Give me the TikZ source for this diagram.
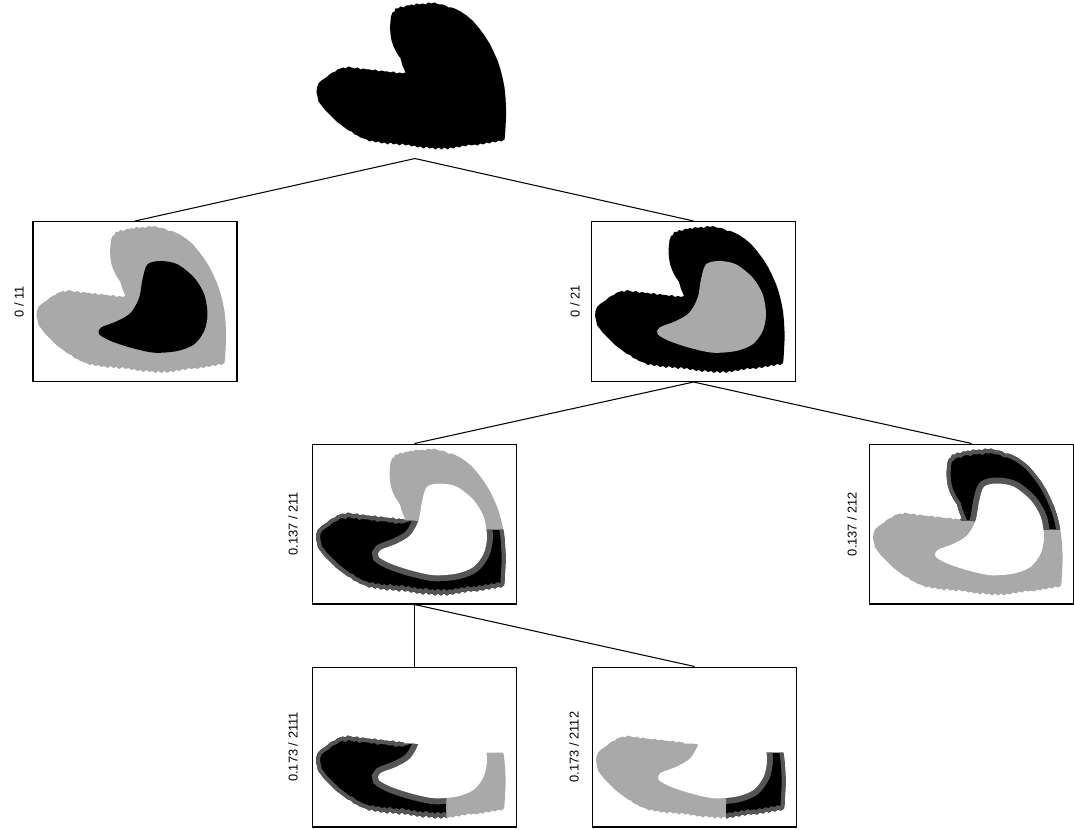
\documentclass[tikz,border=0pt]{standalone}
\usepackage{fontspec}
\setsansfont{Liberation Sans}

\definecolor{lightshade}{HTML}{A9A9A9}
\definecolor{darkshade}{HTML}{555555}

% outlines, in pixels from the top left corner of a panel
\newcommand{\heartoutline}{plot coordinates {(93,75) (90,68) (88,61) (84,55) (81,49) (79,43) (78,37) (77.5,30) (78,24) (78.5,19)
  (80,15) (82,14) (83,11) (86,11) (88,9) (91,10) (94,8) (97,8) (99,7) (101,8) (104,6) (107,7) (110,6) (113,7) (116,5) (119,6) (122,5) (124,6) (127,7) (130,7) (133,8) (136,10) (139,10) (142,11)
  (148,14) (154,18) (160,23) (166,30) (172,38) (177,46) (181,54) (185,63) (188,72) (190,80) (192,90) (193,100) (193.5,110) (193.5,120) (193,130) (192.5,138) (192,142)
  (189,144) (186,143) (183,145) (180,144) (177,146) (174,145) (171,147) (168,146) (165,148) (162,147) (159,148) (156,147) (153,149) (150,148) (147,150) (144,149) (141,151) (138,150) (135,152) (132,150) (129,152) (126,150) (123,152) (120,150) (117,151) (114,149) (111,151) (108,149) (105,150) (102,148) (99,149) (96,147) (93,148) (90,146) (87,148) (84,146) (81,147) (78,145) (75,147) (72,145) (69,146) (66,144) (63,145) (60,143) (57,144) (54,142) (51,141) (48,140) (45,138) (42,137) (39,134) (36,133)
  (32,130) (28,127) (24,124) (20,120) (16,116) (12,112) (9,108) (6,104) (5,99) (4,95) (4.5,90) (6,86) (9,83) (12,81)
  (15,79) (17,77) (20,75) (23,74) (25,72) (28,71) (31,70) (33,71) (36,69) (39,70) (42,71) (45,70) (48,72) (51,71) (54,72) (57,72) (60,73) (63,72) (66,74) (69,73) (72,74) (75,74) (78,75) (81,74) (84,76) (87,75) (90,76)} -- cycle}
\newcommand{\beanoutline}{plot[smooth cycle] coordinates {(115,43.3) (128.3,40) (145,43.3) (161.7,56.7) (171.7,73.3) (175,93.3) (171.7,110) (161.7,123.3) (145,130) (121.7,131.7) (98.3,126.7) (78.3,120) (66.7,113.3) (68.3,106.7) (85,100) (98.3,91.7) (106.7,76.7) (110,58.3)}}
\newcommand{\uppercut}{(-5,-5) -- (210,-5) -- (210,86) -- (160,86) -- (100,77) -- (92,77) -- (84,65) -- (-5,65) -- cycle}
\newcommand{\lowercut}{(-5,65) -- (84,65) -- (92,77) -- (100,77) -- (160,86) -- (210,86) -- (210,165) -- (-5,165) -- cycle}
% black part of the ring with grey rims (used inside a clip)
\newcommand{\banded}{%
  \fill[black] (-5,-5) rectangle (210,165);
  \draw[darkshade, line width=4.5pt] \heartoutline;
  \draw[darkshade, line width=6.8pt] \beanoutline;}

\tikzset{
  panel/.style={draw, line width=.6pt, minimum width=4.08cm, minimum height=3.2cm, inner sep=0pt},
  lbl/.style={rotate=90, font=\sffamily\fontsize{7.3}{9}\selectfont}
}

\begin{document}
\begin{tikzpicture}[x=0.02cm, y=-0.02cm]
\useasboundingbox (0,0) rectangle (1074,829);

\node[panel, draw=none] (root) at (415,78) {};
\node[panel] (b11) at (135,301.5) {};
\node[panel] (b21) at (693.5,301.5) {};
\node[panel] (b211) at (414.5,524) {};
\node[panel] (b212) at (971.5,524) {};
\node[panel] (b2111) at (414.5,747) {};
\node[panel] (b2112) at (694.5,747) {};

\node[lbl] (l11) at (19,301.5) {0 / 11};
\node[lbl] (l21) at (575,301.5) {0 / 21};
\node[lbl] (l211) at (293,524) {0.137 / 211};
\node[lbl] (l212) at (852,524) {0.137 / 212};
\node[lbl] (l2111) at (293,747) {0.173 / 2111};
\node[lbl] (l2112) at (574,747) {0.173 / 2112};

\draw[line width=.6pt] (root.south) -- (b11.north);
\draw[line width=.6pt] (root.south) -- (b21.north);
\draw[line width=.6pt] (b21.south) -- (b211.north);
\draw[line width=.6pt] (b21.south) -- (b212.north);
\draw[line width=.6pt] (b211.south) -- (b2111.north);
\draw[line width=.6pt] (b211.south) -- (b2112.north);

% root
\begin{scope}[shift={(root.north west)}]
  \fill[black] \heartoutline;
\end{scope}

% 11
\begin{scope}[shift={(b11.north west)}]
  \fill[lightshade] \heartoutline;
  \fill[black] \beanoutline;
\end{scope}

% 21
\begin{scope}[shift={(b21.north west)}]
  \fill[black] \heartoutline;
  \fill[lightshade] \beanoutline;
\end{scope}

% 211
\begin{scope}[shift={(b211.north west)}]
  \begin{scope}
    \clip \uppercut;
    \fill[lightshade] \heartoutline;
  \end{scope}
  \begin{scope}
    \clip \lowercut;
    \clip \heartoutline;
    \banded
  \end{scope}
  \fill[white] \beanoutline;
\end{scope}

% 212
\begin{scope}[shift={(b212.north west)}]
  \begin{scope}
    \clip \lowercut;
    \fill[lightshade] \heartoutline;
  \end{scope}
  \begin{scope}
    \clip \uppercut;
    \clip \heartoutline;
    \banded
  \end{scope}
  \fill[white] \beanoutline;
\end{scope}

% 2111
\begin{scope}[shift={(b2111.north west)}]
  \begin{scope}
    \clip \lowercut;
    \clip (134,-5) rectangle (210,165);
    \fill[lightshade] \heartoutline;
  \end{scope}
  \begin{scope}
    \clip \lowercut;
    \clip (-5,-5) rectangle (134,165);
    \clip \heartoutline;
    \banded
  \end{scope}
  \fill[white] \beanoutline;
\end{scope}

% 2112
\begin{scope}[shift={(b2112.north west)}]
  \begin{scope}
    \clip \lowercut;
    \clip (-5,-5) rectangle (134,165);
    \fill[lightshade] \heartoutline;
  \end{scope}
  \begin{scope}
    \clip \lowercut;
    \clip (134,-5) rectangle (210,165);
    \clip \heartoutline;
    \banded
  \end{scope}
  \fill[white] \beanoutline;
\end{scope}
\end{tikzpicture}
\end{document}
